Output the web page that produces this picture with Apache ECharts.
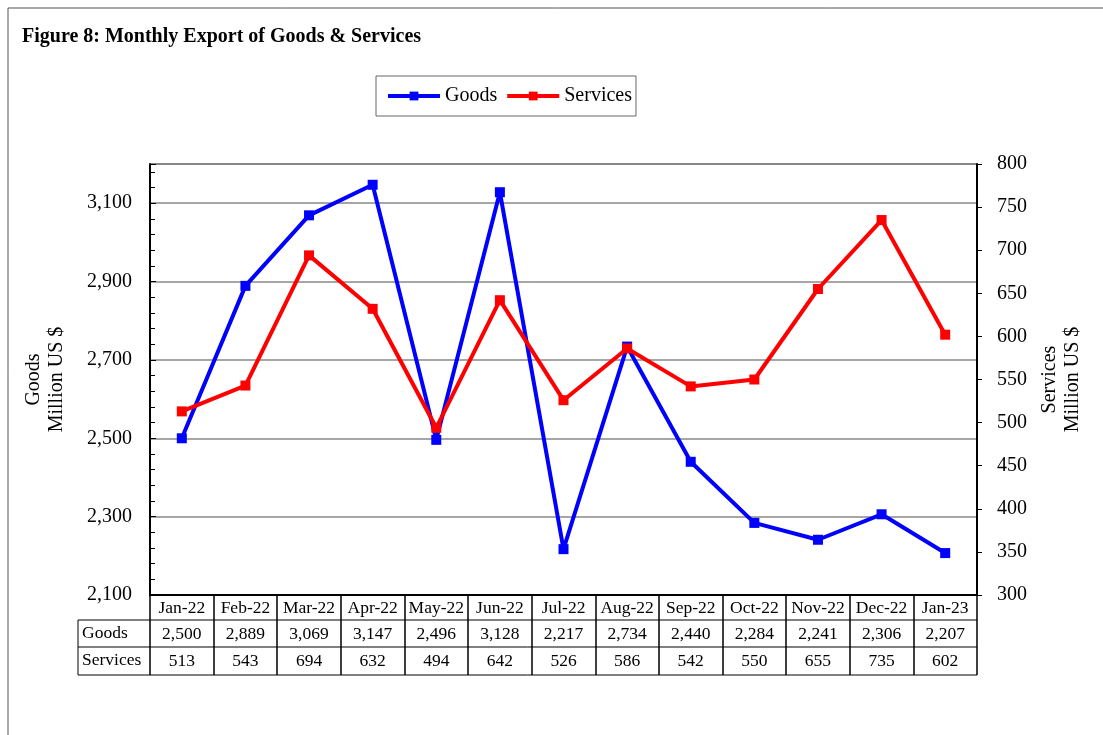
<!DOCTYPE html>
<html>
<head>
<meta charset="utf-8">
<script src="https://cdn.jsdelivr.net/npm/echarts@6/dist/echarts.min.js"></script>
<style>
  html, body { margin: 0; padding: 0; background: #fff; }
  #chart { width: 1103px; height: 735px; }
</style>
</head>
<body>
<div id="chart"></div>
<script>
  var months = ['Jan-22', 'Feb-22', 'Mar-22', 'Apr-22', 'May-22', 'Jun-22', 'Jul-22',
    'Aug-22', 'Sep-22', 'Oct-22', 'Nov-22', 'Dec-22', 'Jan-23'];
  var goods = [2500, 2889, 3069, 3147, 2496, 3128, 2217, 2734, 2440, 2284, 2241, 2306, 2207];
  var services = [513, 543, 694, 632, 494, 642, 526, 586, 542, 550, 655, 735, 602];

  var font = '"Liberation Serif", "DejaVu Serif", serif';
  var fmt = function (v) { return Number(v).toLocaleString('en-US'); };

  // plot area
  var G = { left: 150, right: 126, top: 164, bottom: 140 };
  var W = 1103, H = 735;
  var x0 = G.left, x1 = W - G.right, yB = H - G.bottom;
  var rowH = [25, 27, 28];
  var tfs = 17.5;

  var chart = echarts.init(document.getElementById('chart'));

  var extras = [
    // horizontal rules of the table
    { type: 'line', shape: { x1: x0, y1: yB + rowH[0], x2: x1, y2: yB + rowH[0] }, style: { stroke: '#000', lineWidth: 1 } },
    { type: 'line', shape: { x1: 78, y1: yB + rowH[0], x2: x0, y2: yB + rowH[0] }, style: { stroke: '#000', lineWidth: 1 } },
    { type: 'line', shape: { x1: 78, y1: yB + rowH[0] + rowH[1], x2: x1, y2: yB + rowH[0] + rowH[1] }, style: { stroke: '#000', lineWidth: 1 } },
    { type: 'line', shape: { x1: 78, y1: yB + rowH[0] + rowH[1] + rowH[2], x2: x1, y2: yB + rowH[0] + rowH[1] + rowH[2] }, style: { stroke: '#000', lineWidth: 1 } },
    { type: 'line', shape: { x1: 78, y1: yB + rowH[0], x2: 78, y2: yB + rowH[0] + rowH[1] + rowH[2] }, style: { stroke: '#000', lineWidth: 1 } },
    { type: 'text', left: 82, top: yB + rowH[0] + 4, style: { text: 'Goods', font: tfs + 'px ' + font, fill: '#000' } },
    { type: 'text', left: 82, top: yB + rowH[0] + rowH[1] + 4, style: { text: 'Services', font: tfs + 'px ' + font, fill: '#000' } },
    // page frame
    { type: 'line', shape: { x1: 8, y1: 8, x2: W, y2: 8 }, style: { stroke: '#555', lineWidth: 1 } },
    { type: 'line', shape: { x1: 8, y1: 8, x2: 8, y2: H }, style: { stroke: '#555', lineWidth: 1 } },
    // top border of plot area
    { type: 'line', shape: { x1: x0, y1: G.top, x2: x1, y2: G.top }, style: { stroke: '#888', lineWidth: 2 } }
  ];

  var option = {
    animation: false,
    backgroundColor: '#fff',
    textStyle: { fontFamily: font, color: '#000' },
    title: {
      text: 'Figure 8: Monthly Export of Goods & Services',
      left: 17, top: 22,
      textStyle: { fontFamily: font, fontSize: 20, fontWeight: 'bold', color: '#000' }
    },
    legend: {
      left: 376, top: 76,
      padding: [10, 4, 10, 10],
      borderColor: '#666', borderWidth: 1,
      itemWidth: 52, itemHeight: 11, itemGap: 8,
      lineStyle: { width: 4 },
      textStyle: { fontFamily: font, fontSize: 20, color: '#000' },
      data: ['Goods', 'Services']
    },
    grid: G,
    xAxis: [
      {
        type: 'category', data: months, position: 'bottom',
        boundaryGap: true,
        axisLine: { lineStyle: { color: '#000', width: 2 } },
        axisTick: { show: true, interval: 0, length: rowH[0] + rowH[1] + rowH[2], lineStyle: { color: '#000', width: 1.5 } },
        axisLabel: { interval: 0, margin: 4, fontSize: tfs, fontFamily: font, color: '#000' }
      },
      {
        type: 'category', data: goods.map(fmt), position: 'bottom', offset: rowH[0],
        boundaryGap: true, gridIndex: 0,
        axisLine: { show: false }, axisTick: { show: false },
        axisLabel: { interval: 0, margin: 5, fontSize: tfs, fontFamily: font, color: '#000' }
      },
      {
        type: 'category', data: services.map(String), position: 'bottom', offset: rowH[0] + rowH[1],
        boundaryGap: true, gridIndex: 0,
        axisLine: { show: false }, axisTick: { show: false },
        axisLabel: { interval: 0, margin: 5, fontSize: tfs, fontFamily: font, color: '#000' }
      }
    ],
    yAxis: [
      {
        type: 'value', position: 'left',
        min: 2100, max: 3200, interval: 200,
        name: 'Goods\nMillion US $', nameLocation: 'middle', nameGap: 82, nameRotate: 90,
        nameTextStyle: { fontFamily: font, fontSize: 20, color: '#000', lineHeight: 23 },
        axisLine: { show: true, lineStyle: { color: '#000', width: 2 } },
        axisTick: { show: true, inside: true, length: 6, lineStyle: { color: '#000' } },
        minorTick: { show: true, splitNumber: 5, length: 5, lineStyle: { color: '#000' } },
        axisLabel: { fontSize: 20, fontFamily: font, color: '#000', margin: 18, showMaxLabel: false, formatter: fmt },
        splitLine: { show: true, lineStyle: { color: '#888', width: 1.5 } }
      },
      {
        type: 'value', position: 'right',
        min: 300, max: 800, interval: 50,
        name: 'Services\nMillion US $', nameLocation: 'middle', nameGap: 60, nameRotate: 90,
        nameTextStyle: { fontFamily: font, fontSize: 20, color: '#000', lineHeight: 23 },
        axisLine: { show: true, lineStyle: { color: '#000', width: 2 } },
        axisTick: { show: true, length: 5, lineStyle: { color: '#000' } },
        axisLabel: { fontSize: 20, fontFamily: font, color: '#000', margin: 20 },
        splitLine: { show: false }
      }
    ],
    series: [
      {
        name: 'Goods', type: 'line', xAxisIndex: 0, yAxisIndex: 0,
        data: goods,
        symbol: 'rect', symbolSize: 10,
        lineStyle: { color: '#0000ff', width: 4 },
        itemStyle: { color: '#0000ff' },
        z: 3
      },
      {
        name: 'Services', type: 'line', xAxisIndex: 0, yAxisIndex: 1,
        data: services,
        symbol: 'rect', symbolSize: 10,
        lineStyle: { color: '#ff0000', width: 4 },
        itemStyle: { color: '#ff0000' },
        z: 4
      }
    ],
    graphic: extras
  };

  chart.setOption(option);
</script>
</body>
</html>
